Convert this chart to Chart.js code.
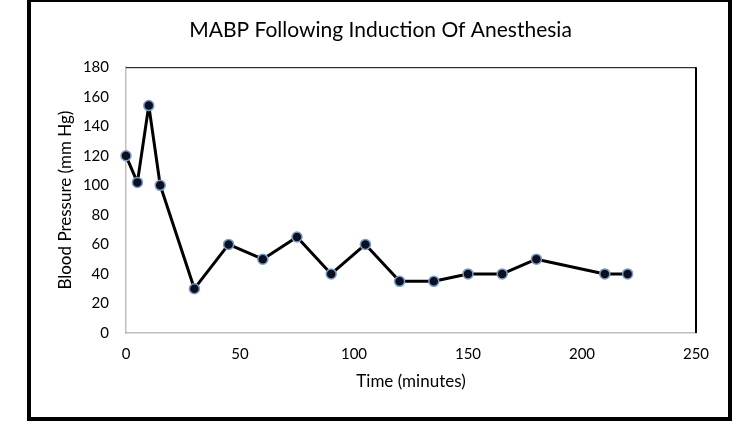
<!DOCTYPE html>
<html>
<head>
<meta charset="utf-8">
<script src="https://cdn.jsdelivr.net/npm/chart.js@4/dist/chart.umd.min.js"></script>
<style>
  html, body { margin: 0; padding: 0; background: #fff; }
  #wrap { position: relative; width: 735px; height: 430px; }
  #frame { position: absolute; left: 27px; top: 0px; width: 697px; height: 415px; border: 4px solid #000; border-top-width: 2px; box-sizing: content-box; pointer-events: none; }
</style>
</head>
<body>
<div id="wrap">
  <canvas id="lineChart" width="735" height="430"></canvas>
  <div id="frame"></div>
</div>
<script>
// MABP readings after induction
var minutes = [0, 5, 10, 15, 30, 45, 60, 75, 90, 105, 120, 135, 150, 165, 180, 210, 220];
var pressure = [120, 102, 154, 100, 30, 60, 50, 65, 40, 60, 35, 35, 40, 40, 50, 40, 40];
var yTicks = [0, 20, 40, 60, 80, 100, 120, 140, 160, 180];
var xTicks = [0, 50, 100, 150, 200, 250];

var fontFamily = "Lato, 'Open Sans', sans-serif";

// black top/right edge of the plot box
var plotBorder = {
  id: 'plotBorder',
  beforeDatasetsDraw: function (chart) {
    var a = chart.chartArea, c = chart.ctx;
    c.save();
    c.strokeStyle = '#000';
    c.lineWidth = 1;
    c.beginPath();
    c.moveTo(a.left, a.top + 0.5);
    c.lineTo(a.right, a.top + 0.5);
    c.stroke();
    c.lineWidth = 2;
    c.beginPath();
    c.moveTo(a.right, a.top);
    c.lineTo(a.right, a.bottom);
    c.stroke();
    c.restore();
  }
};

var ctxL = document.getElementById("lineChart").getContext('2d');
var myLineChart = new Chart(ctxL, {
  type: 'line',
  data: {
    datasets: [{
      label: "MABP",
      data: minutes.map(function (m, i) { return { x: m, y: pressure[i] }; }),
      borderColor: '#000',
      borderWidth: 3,
      borderJoinStyle: 'round',
      pointRadius: 5,
      pointBackgroundColor: '#0b0f1f',
      pointBorderColor: '#7a9cc6',
      pointBorderWidth: 1.5,
      tension: 0,
      clip: false
    }]
  },
  plugins: [plotBorder],
  options: {
    responsive: false,
    animation: false,
    layout: { padding: { left: 31, right: 5, top: 0, bottom: 30 } },
    plugins: {
      legend: { display: false },
      tooltip: { enabled: false },
      title: {
        display: true,
        text: 'MABP Following Induction Of Anesthesia',
        color: '#000',
        font: { family: fontFamily, size: 21, weight: 'normal' },
        padding: { top: 18, bottom: 24 }
      }
    },
    scales: {
      x: {
        type: 'linear',
        min: 0,
        max: 250,
        afterBuildTicks: function (s) { s.ticks = xTicks.map(function (v) { return { value: v }; }); },
        afterFit: function (s) { s.height = 67; },
        grid: { display: false, drawTicks: false },
        border: { color: '#bfbfbf', width: 1.5 },
        ticks: { color: '#000', padding: 12, font: { family: fontFamily, size: 15 } },
        title: {
          display: true,
          text: 'Time (minutes)',
          color: '#000',
          font: { family: fontFamily, size: 17 },
          padding: { top: 0, bottom: 8 }
        }
      },
      y: {
        min: 0,
        max: 180,
        afterBuildTicks: function (s) { s.ticks = yTicks.map(function (v) { return { value: v }; }); },
        afterFit: function (s) { s.width = 95; },
        grid: { display: false, drawTicks: false },
        border: { color: '#bfbfbf', width: 1.5 },
        ticks: { color: '#000', padding: 17, font: { family: fontFamily, size: 15 } },
        title: {
          display: true,
          text: 'Blood Pressure (mm Hg)',
          color: '#000',
          font: { family: fontFamily, size: 17 },
          padding: { top: 24, bottom: 0 }
        }
      },
      // empty right-side spacer so the title centres on the frame
      yRight: {
        position: 'right',
        afterFit: function (s) { s.width = 34; },
        grid: { display: false, drawTicks: false },
        border: { display: false },
        ticks: { display: false }
      }
    }
  }
});
</script>
</body>
</html>
